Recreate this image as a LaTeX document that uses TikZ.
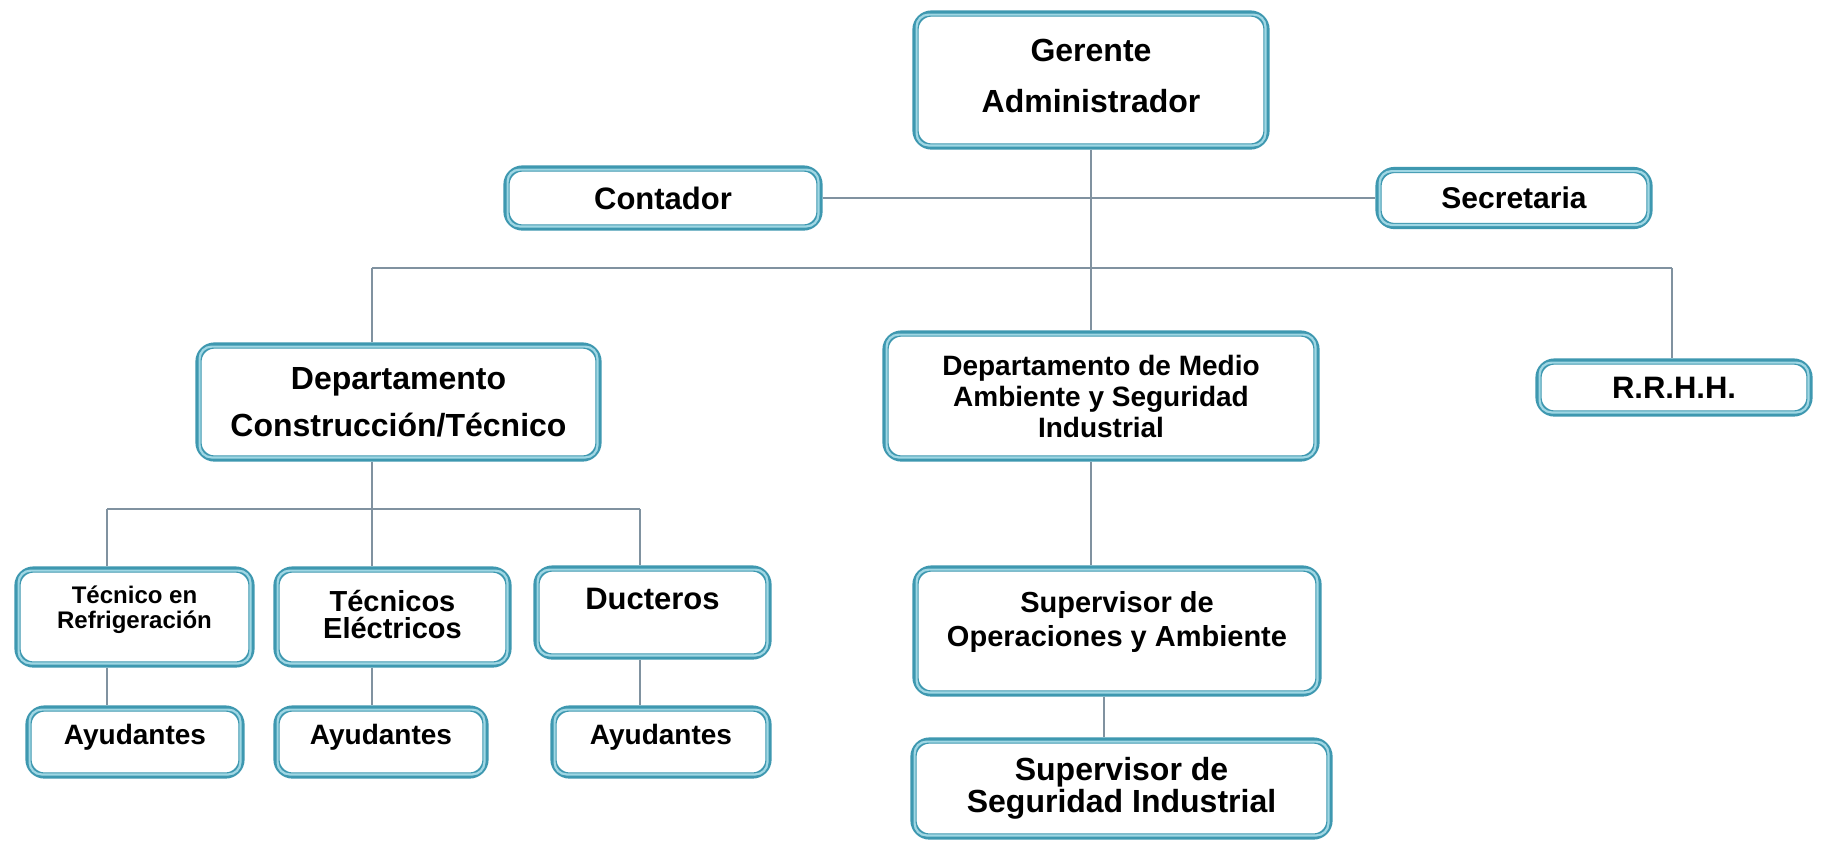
\documentclass[tikz,border=0pt]{standalone}
\usepackage{fontspec}
\setmainfont{Liberation Sans}
\definecolor{boxc}{RGB}{62,152,176}
\definecolor{boxlight}{RGB}{160,215,228}
\definecolor{linec}{RGB}{128,146,160}
\newcommand\txtsz[2]{\fontsize{#1}{#2}\selectfont\bfseries}
% \orgbox{name}{x}{y}{width}{height}{font}{text lift}{text}
\newcommand\orgbox[8]{%
  \node[box, minimum width=#4, minimum height=#5] (#1) at (#2,#3) {};
  \draw[inner rim] ([shift={(2.1pt,-2.1pt)}]#1.north west) rectangle ([shift={(-2.1pt,2.1pt)}]#1.south east);
  \node[txt, font=#6] (#1-t) at ([yshift=#7]#1.center) {#8};}
\begin{document}
\begin{tikzpicture}[x=0.5pt,y=-0.5pt,
  box/.style={draw=boxc, line width=3.1pt, rounded corners=8pt, fill=white, inner sep=0pt},
  inner rim/.style={draw=boxlight, line width=1.1pt, rounded corners=6pt},
  txt/.style={align=center, inner sep=0pt},
  wire/.style={draw=linec, line width=0.8pt}]
\fill[white] (0,0) rectangle (1821,843);
\useasboundingbox (0,0) rectangle (1821,843);

% top level
\orgbox{ger}{1091}{80}{175.5pt}{66.5pt}{\txtsz{16}{25.5}}{2pt}{Gerente\\Administrador}
\orgbox{con}{663}{198}{156.5pt}{29.5pt}{\txtsz{15.5}{18}}{0pt}{Contador}
\orgbox{sec}{1514}{198}{135.5pt}{28pt}{\txtsz{15}{18}}{0pt}{Secretaria}

% departments
\orgbox{dcon}{398.5}{402}{200pt}{56.5pt}{\txtsz{16}{23.5}}{0pt}{Departamento\\Construcción/Técnico}
\orgbox{dmed}{1101}{396}{215.5pt}{62.5pt}{\txtsz{14}{15.5}}{0pt}{Departamento de Medio\\Ambiente y Seguridad\\Industrial}
\orgbox{rrhh}{1674}{387.5}{135.5pt}{26pt}{\txtsz{15.5}{18}}{0pt}{R.R.H.H.}

% construction staff
\orgbox{tref}{134.5}{617}{117pt}{47.5pt}{\txtsz{12}{12.5}}{3.5pt}{Técnico en\\Refrigeración}
\orgbox{tele}{392.5}{617}{116pt}{47.5pt}{\txtsz{14.5}{13.5}}{1.5pt}{Técnicos\\Eléctricos}
\orgbox{duc}{652.5}{612.5}{116pt}{44pt}{\txtsz{15.5}{18}}{7pt}{Ducteros}

\orgbox{ay1}{135}{742}{106.5pt}{33.5pt}{\txtsz{14}{16}}{2.5pt}{Ayudantes}
\orgbox{ay2}{381}{742}{104.5pt}{33.5pt}{\txtsz{14}{16}}{2.5pt}{Ayudantes}
\orgbox{ay3}{661}{742}{107.5pt}{33.5pt}{\txtsz{14}{16}}{2.5pt}{Ayudantes}

% supervisors
\orgbox{sop}{1117}{631}{201.5pt}{62.5pt}{\txtsz{14.5}{17}}{4.5pt}{Supervisor de\\Operaciones y Ambiente}
\orgbox{sseg}{1121.5}{788.5}{208pt}{48pt}{\txtsz{16}{16}}{0pt}{Supervisor de\\Seguridad Industrial}

% junction points of the connector buses
\coordinate (busL) at (372,268);
\coordinate (busR) at (1672,268);
\coordinate (subL) at (107,509);
\coordinate (subM) at (372,509);
\coordinate (subR) at (640,509);
\coordinate (opx) at (1104,700);

% connectors
\draw[wire] (ger.south) -- (ger.south |- dmed.north);
\draw[wire] (con.east) -- (con.east -| sec.west);
\draw[wire] (busL) -- (busR);
\draw[wire] (busL) -- (busL |- dcon.north);
\draw[wire] (busR) -- (busR |- rrhh.north);

\draw[wire] (busL |- dcon.south) -- (subM |- tele.north);
\draw[wire] (subL) -- (subR);
\draw[wire] (subL) -- (subL |- tref.north);
\draw[wire] (subR) -- (subR |- duc.north);

\draw[wire] (subL |- tref.south) -- (subL |- ay1.north);
\draw[wire] (subM |- tele.south) -- (subM |- ay2.north);
\draw[wire] (subR |- duc.south) -- (subR |- ay3.north);

\draw[wire] (ger.south |- dmed.south) -- (ger.south |- sop.north);
\draw[wire] (opx |- sop.south) -- (opx |- sseg.north);
\end{tikzpicture}
\end{document}
